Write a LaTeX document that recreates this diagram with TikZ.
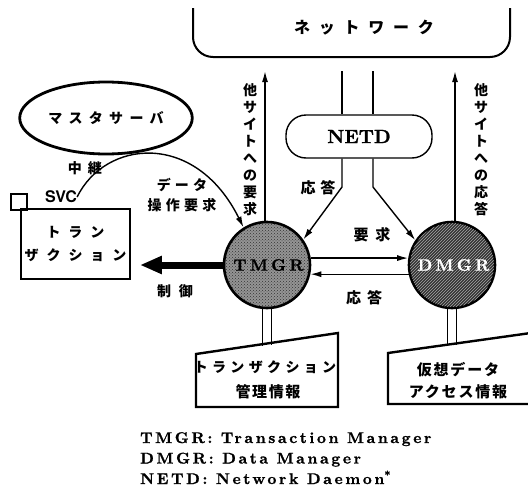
\documentclass[tikz,border=0pt]{standalone}
\usepackage{fontspec}
\newfontfamily\jp{Noto Sans CJK JP}
\newfontfamily\lmb{lmroman10-bold.otf}[FakeBold=1.2]
\setsansfont{TeX Gyre Heros}
\usetikzlibrary{arrows.meta,shapes.geometric,calc,patterns}
\newcommand\jf[3]{\jp\bfseries\fontsize{#1}{#3}\selectfont\addfontfeature{LetterSpace=#2}}
\newcommand\lf[2]{\lmb\fontsize{#1}{#1}\selectfont\addfontfeature{LetterSpace=#2}}
\begin{document}
\begin{tikzpicture}[x=1pt,y=-1pt,
  lw/.style={line width=1.4pt},
  arr/.style={lw,-{Latex[length=11pt,width=6pt]}},
  lbl/.style={inner sep=0pt},
  mgr/.style={circle,draw,line width=2.6pt,minimum size=86pt,inner sep=0pt},
  stem/.style={line width=1.8pt},
  box/.style={line width=2.4pt}]
\useasboundingbox (0,0) rectangle (528,493);
\clip (0,0) rectangle (528,493);
% network
\draw[line width=2pt,rounded corners=20pt] (193,8) -- (193,57) -- (510,57) -- (510,8);
\node[lbl,font={\jf{16}{55}{16}}] (net) at (364,28) {ネットワーク};
% master server
\node[ellipse,draw,line width=2.8pt,minimum width=158pt,minimum height=72pt,font={\jf{14}{45}{14}}] (ms) at (106,118) {マスタサーバ};
% NETD
\node[draw,lw,rounded corners=20pt,minimum width=146pt,minimum height=43pt,font={\lf{19}{0}}] (netd) at (359,136.5) {NETD};
\coordinate (nl) at (342,71);
\coordinate (nr) at (373,71);
\coordinate (bl) at (342,187);
\coordinate (br) at (373,187);
% managers
\node[mgr,fill=black!42] (tmgr) at (267,265) {};
\fill[pattern=crosshatch dots,pattern color=black!80] (tmgr.center) circle[radius=42pt];
\node[lbl,font={\lf{16.5}{20}}] (tmgrt) at ([xshift=1.5pt]tmgr.center) {TMGR};
\node[mgr,fill=black!80] (dmgr) at (452,265) {};
\fill[pattern=north east lines,pattern color=black!35] (dmgr.center) circle[radius=42pt];
\node[lbl,text=white,font={\lf{16.5}{20}}] (dmgrt) at ([xshift=1.5pt]dmgr.center) {DMGR};
\draw[lw] (nl) -- (nl |- netd.north);
\draw[lw] (nr) -- (nr |- netd.north);
\draw[arr] (bl |- netd.south) -- (bl) -- (tmgr.35);
\draw[arr] (br |- netd.south) -- (br) -- (dmgr.146);
% up arrows
\coordinate (ul) at (265,71);
\coordinate (ur) at (455,71);
\draw[arr] (ul |- tmgr.north) -- (ul);
\draw[arr] (ur |- dmgr.north) -- (ur);
\node[lbl,align=center,font={\jp\bfseries\fontsize{14}{17}\selectfont}] (vl) at (250,150) {他\\サ\\イ\\ト\\へ\\の\\要\\求};
\node[lbl,align=center,font={\jp\bfseries\fontsize{14}{17}\selectfont}] (vr) at (481,150) {他\\サ\\イ\\ト\\へ\\の\\応\\答};
% between managers
\draw[arr] (tmgr.9) -- (dmgr.171);
\draw[arr] (dmgr.192) -- (tmgr.348);
\node[lbl,font={\jf{15}{44}{15}}] (req) at (372,235) {要求};
\node[lbl,font={\jf{15}{40}{15}}] (ans) at (364,298) {応答};
\node[lbl,font={\jf{15}{33}{15}}] (ans2) at (318,188) {応答};
% transaction
\node[draw,box,minimum width=105pt,minimum height=70pt,align=center,font={\jf{14}{57}{23}}] (trans) at (75.5,244) {トラン\\ザクション};
\node[draw,line width=2pt,minimum size=16pt,inner sep=0pt] (sq) at (18.5,201.5) {};
\node[lbl,font=\sffamily\bfseries\fontsize{16}{16}\selectfont] (svc) at (61,197) {SVC};
\draw[arr] (svc.east) .. controls (105,140) and (195,130) .. (tmgr.122);
\node[lbl,font={\jf{14}{43}{14}}] (relay) at (85,168) {中継};
\node[lbl,align=center,font={\jf{14}{30}{20}}] (dop) at (182,195) {データ\\操作要求};
\draw[line width=7pt,-{Triangle[length=22pt,width=17pt]},shorten >=9pt] (tmgr.west) -- (trans.east |- tmgr.west);
\node[lbl,font={\jf{14}{57}{14}}] (ctl) at (175,291) {制御};
% storage
\draw[box] (196,354) -- (338,333) -- (338,407) -- (196,407) -- cycle;
\draw[box] (388,353) -- (545,331) -- (545,404) -- (388,404) -- cycle;
\draw[stem] ([xshift=-4.5pt]tmgr.south) -- ++(0,37);
\draw[stem] ([xshift=4.5pt]tmgr.south) -- ++(0,36);
\draw[stem] ([xshift=-4.5pt]dmgr.south) -- ++(0,37);
\draw[stem] ([xshift=4.5pt]dmgr.south) -- ++(0,36);
\node[lbl,font={\jf{14}{31}{14}}] (ti1) at (265,367) {トランザクション};
\node[lbl,font={\jf{15}{11}{15}}] (ti2) at (268,392) {管理情報};
\node[lbl,font={\jf{15}{12}{15}}] (di1) at (458,370) {仮想データ};
\node[lbl,font={\jf{15}{12}{15}}] (di2) at (458,392) {アクセス情報};
% legend
\node[lbl,anchor=north west,align=left,font={\lf{15.5}{17}\fontsize{15.5}{20.5}\selectfont}] (leg) at (140,432)
 {TMGR: Transaction Manager\\DMGR: Data Manager\\NETD: Network Daemon\textsuperscript{*}};
\end{tikzpicture}
\end{document}
